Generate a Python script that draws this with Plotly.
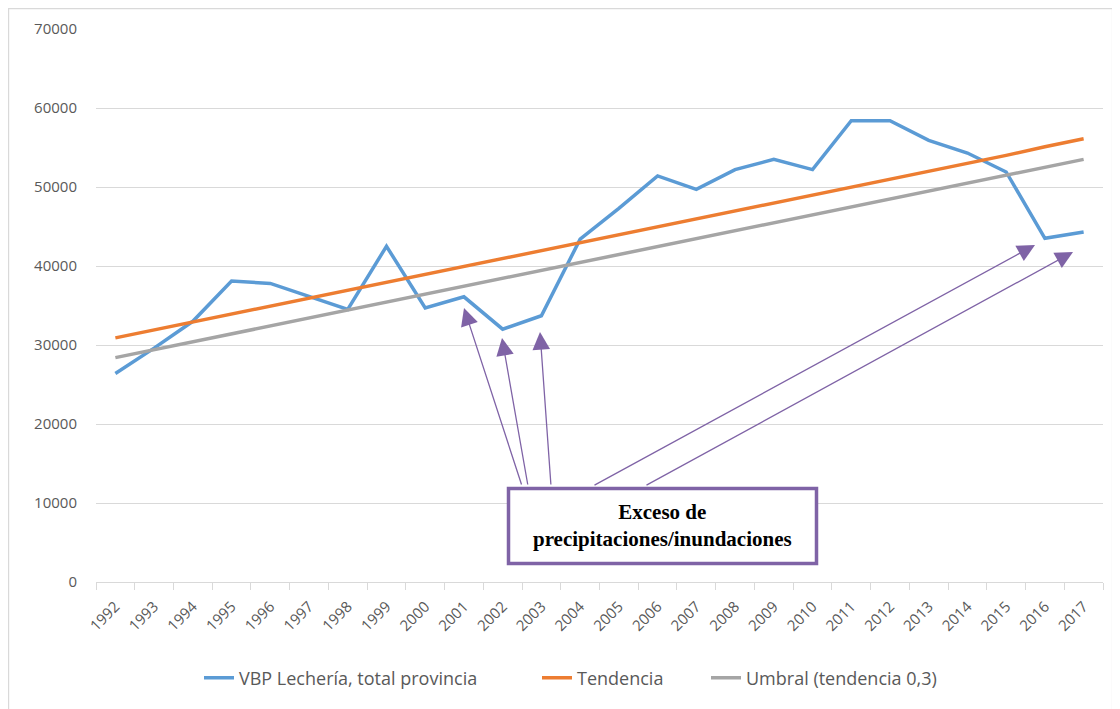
import plotly.graph_objects as go

years = [str(y) for y in range(1992, 2018)]
vbp = [26400, 29600, 33000, 38100, 37800, 36200, 34500, 42500, 34700, 36100,
       32000, 33700, 43400, 47300, 51400, 49700, 52200, 53500, 52200, 58400,
       58400, 55900, 54300, 51900, 43500, 44300]
tendencia = [30900, 31900, 32900, 33900, 34900, 35900, 36900, 37900, 38900, 39900,
             40900, 41900, 42900, 43900, 44900, 45900, 46900, 48000, 49000, 50000,
             51000, 52000, 53000, 54000, 55100, 56100]
umbral = [28400, 29400, 30400, 31400, 32400, 33400, 34400, 35400, 36400, 37400,
          38400, 39400, 40400, 41400, 42400, 43400, 44400, 45400, 46400, 47400,
          48500, 49500, 50500, 51500, 52500, 53500]
names = ["VBP Lechería, total provincia", "Tendencia", "Umbral (tendencia 0,3)"]
colors = ["#5B9BD5", "#ED7D31", "#A5A5A5"]
legend_ids = ["legend", "legend2", "legend3"]
box_text = "<b>Exceso de<br>precipitaciones/inundaciones</b>"

# page has an 8px body margin; convert page pixels to figure pixels
OFF = 8
W, H = 1120, 709
# plot area in page pixels: x 96..1103, y 29..582
L, R, T, B = 96 - OFF, 1103 - OFF, 29 - OFF, 582 - OFF
def px(x):
    return (x - OFF - L) / (R - L)
def py(y):
    return (B - (y - OFF)) / (B - T)

fig = go.Figure()
for vals, nm, c, lg in zip([vbp, tendencia, umbral], names, colors, legend_ids):
    fig.add_trace(go.Scatter(x=years, y=vals, name=nm, mode="lines", legend=lg,
                             line=dict(color=c, width=3.5)))

purple = "#7F63A6"
# arrows: tail (page pixels) -> tip (page pixels)
arrows = [((522, 486), (464, 308)), ((528, 486), (502, 338)), ((551, 486), (540, 332)),
          ((593, 486), (1035, 245)), ((645, 486), (1073, 252))]
annotations = []
for (tx, ty), (hx, hy) in arrows:
    annotations.append(dict(xref="paper", yref="paper", x=px(hx), y=py(hy),
                            axref="pixel", ayref="pixel", ax=tx - hx, ay=ty - hy,
                            showarrow=True, arrowhead=2, arrowsize=2.7, arrowwidth=1.3,
                            arrowcolor=purple, text="", standoff=0))
annotations.append(dict(xref="paper", yref="paper", x=px(662), y=py(525),
                        xanchor="center", yanchor="middle",
                        text=box_text, showarrow=False,
                        font=dict(family="Liberation Serif", size=21, color="black"),
                        align="center"))

shapes = [
    dict(type="rect", xref="paper", yref="paper", x0=px(508.5), x1=px(816.5),
         y0=py(563.5), y1=py(488.5), line=dict(color=purple, width=3.5),
         fillcolor="white", layer="above"),
    dict(type="rect", xref="paper", yref="paper", x0=px(8.6), x1=px(1112.5),
         y0=py(730), y1=py(8.6), line=dict(color="#D9D9D9", width=1.2), layer="below"),
]

leg_font = dict(family="Open Sans", size=18, color="#595959")
leg_common = dict(orientation="h", yanchor="middle", y=py(678), xanchor="left",
                  font=leg_font, bgcolor="rgba(0,0,0,0)")

fig.update_layout(
    width=W, height=H,
    margin=dict(l=L, r=W - R, t=T, b=H - B),
    paper_bgcolor="white", plot_bgcolor="white",
    font=dict(family="Open Sans", color="#595959", size=15),
    showlegend=True,
    legend=dict(x=px(238 - 39), **leg_common),
    legend2=dict(x=px(576 - 39), **leg_common),
    legend3=dict(x=px(745 - 39), **leg_common),
    shapes=shapes,
    annotations=annotations,
    xaxis=dict(type="category", range=[-0.5, len(years) - 0.5],
               showgrid=False, showline=True, linecolor="#D9D9D9",
               ticks="outside", tickson="boundaries", ticklen=7, tickcolor="#D9D9D9",
               tickangle=-45, tickfont=dict(size=15, color="#595959"),
               ticklabelstandoff=9, automargin=False),
    yaxis=dict(range=[0, 70000], dtick=10000, showgrid=True, gridcolor="#D9D9D9",
               gridwidth=1, zeroline=False, showline=False, ticks="",
               tickformat="d", ticklabelstandoff=18, automargin=False,
               tickfont=dict(size=15, color="#595959")),
)
fig.write_html("out.html")
